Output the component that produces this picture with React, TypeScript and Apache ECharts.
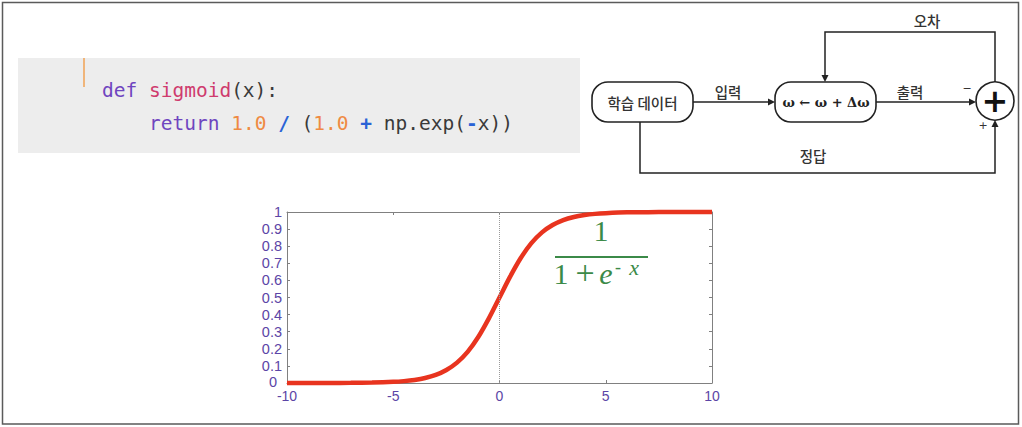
import React, { useEffect, useRef } from "react";
import * as echarts from "echarts";

// Sampled points of the logistic curve
const xValues = [-10, -9, -8, -7, -6, -5, -4.5, -4, -3.5, -3, -2.5, -2, -1.5, -1, -0.5, 0, 0.5, 1, 1.5, 2, 2.5, 3, 3.5, 4, 4.5, 5, 6, 7, 8, 9, 10];
const sigmoidValues = [0.0, 0.0001, 0.0003, 0.0009, 0.0025, 0.0067, 0.011, 0.018, 0.029, 0.047, 0.076, 0.119, 0.182, 0.269, 0.378, 0.5, 0.622, 0.731, 0.818, 0.881, 0.924, 0.953, 0.971, 0.982, 0.989, 0.993, 0.998, 0.999, 1.0, 1.0, 1.0];

// Code snippet shown above the plot
const codeLine1 = "{k|def }{f|sigmoid}{p|(x):}";
const codeLine2 = "{k|return }{n|1.0 }{o|/ }{p|(}{n|1.0 }{o|+ }{p|np.exp(}{o|-}{p|x))}";

// Flow diagram labels
const diagramLabels = {
  data: "학습 데이터",
  update: "ω ← ω + Δω",
  input: "입력",
  output: "출력",
  error: "오차",
  answer: "정답",
};

const AXIS_PURPLE = "#5c45a6";
const FRAME = "#808080";
const GREEN = "#3b8a48";
const INK = "#222";
const KR = "'Noto Sans CJK KR', sans-serif";
const MONO = "'DejaVu Sans Mono', monospace";
const SANS = "'Liberation Sans', Arial, sans-serif";

function arrowHead(x: number, y: number, dir: "right" | "down" | "up") {
  const l = 7, w = 3.5;
  let pts: number[][];
  if (dir === "right") pts = [[x, y], [x - l, y - w], [x - l, y + w]];
  else if (dir === "down") pts = [[x, y], [x - w, y - l], [x + w, y - l]];
  else pts = [[x, y], [x - w, y + l], [x + w, y + l]];
  return { type: "polygon", shape: { points: pts }, style: { fill: INK }, z: 6 };
}

function frameAxis(position: string, kind: "x" | "y", labelled: boolean) {
  const base: any = {
    type: "value",
    position,
    axisLine: { show: true, onZero: false, lineStyle: { color: FRAME, width: 1 } },
    axisTick: { show: true, inside: true, length: 3, lineStyle: { color: FRAME } },
    splitLine: { show: false },
    axisLabel: { show: false },
  };
  if (labelled && kind === "x") {
    base.axisLabel = { color: AXIS_PURPLE, fontSize: 14, lineHeight: 12, margin: 7, fontFamily: SANS };
  }
  if (labelled && kind === "y") {
    // the "0" label sits a little further left so it clears "-10" below it
    base.axisLabel = {
      color: AXIS_PURPLE,
      fontSize: 14.5,
      lineHeight: 12,
      margin: 5,
      fontFamily: SANS,
      formatter: (v: number) => (v === 0 ? "{z|0}" : String(v)),
      rich: { z: { color: AXIS_PURPLE, fontSize: 14.5, fontFamily: SANS, padding: [0, 5, 3, 0] } },
    };
  }
  if (kind === "x") Object.assign(base, { min: -10, max: 10, interval: 5 });
  else Object.assign(base, { min: 0, max: 1, interval: 0.1 });
  return base;
}

export default function App() {
  const ref = useRef<HTMLDivElement>(null);

  useEffect(() => {
    if (!ref.current) return;
    const chart = echarts.init(ref.current, undefined, { renderer: "svg" });
    const data = xValues.map((x, i) => [x, sigmoidValues[i]]);

    const fs = 19.5;
    const codeRich = {
      k: { fill: "#6f45bf", fontFamily: MONO, fontSize: fs },
      f: { fill: "#cf3b6e", fontFamily: MONO, fontSize: fs },
      p: { fill: "#3a3a3a", fontFamily: MONO, fontSize: fs },
      n: { fill: "#ef8a42", fontFamily: MONO, fontSize: fs },
      o: { fill: "#2a63d6", fontFamily: MONO, fontSize: fs, fontWeight: "bold" },
    };

    const line = { stroke: INK, lineWidth: 1.5, fill: "none" };
    const serif = "'Liberation Serif', serif";

    chart.setOption({
      animation: false,
      backgroundColor: "#fff",
      grid: { left: 287, right: 310, top: 212, bottom: 44, containLabel: false },
      xAxis: [frameAxis("bottom", "x", true), frameAxis("top", "x", false)],
      yAxis: [frameAxis("left", "y", true), frameAxis("right", "y", false)],
      series: [
        {
          type: "line",
          xAxisIndex: 0,
          yAxisIndex: 0,
          data,
          smooth: 0.3,
          showSymbol: false,
          clip: false,
          lineStyle: { color: "#e8341f", width: 4.5 },
          markLine: {
            silent: true,
            symbol: "none",
            label: { show: false },
            lineStyle: { color: "#9a9a9a", type: "dotted", width: 1 },
            data: [{ xAxis: 0 }],
          },
          z: 3,
        },
      ],
      graphic: [
        // outer frame
        { type: "rect", shape: { x: 2.5, y: 2.5, width: 1016, height: 421.5 }, style: { fill: "none", stroke: "#5a5a5a", lineWidth: 1.5 }, z: 10 },

        // code block
        { type: "rect", shape: { x: 18, y: 58, width: 562, height: 95 }, style: { fill: "#ededed" }, z: 1 },
        { type: "rect", shape: { x: 83, y: 58, width: 2, height: 29 }, style: { fill: "#f0b57a" }, z: 2 },
        { type: "text", x: 102, y: 90, style: { text: codeLine1, font: `${fs}px ${MONO}`, rich: codeRich, verticalAlign: "middle", align: "left" }, z: 2 },
        { type: "text", x: 149, y: 123, style: { text: codeLine2, font: `${fs}px ${MONO}`, rich: codeRich, verticalAlign: "middle", align: "left" }, z: 2 },

        // formula 1 / (1 + e^-x)
        { type: "text", x: 601, y: 245, style: { text: "1", font: `30px ${serif}`, fill: GREEN, align: "center", verticalAlign: "bottom" }, z: 5 },
        { type: "line", shape: { x1: 555, y1: 257, x2: 648, y2: 257 }, style: { stroke: GREEN, lineWidth: 2 }, z: 5 },
        { type: "text", x: 561, y: 288, style: { text: "1", font: `30px ${serif}`, fill: GREEN, align: "center", verticalAlign: "bottom" }, z: 5 },
        { type: "text", x: 585, y: 289, style: { text: "+", font: `34px ${serif}`, fill: GREEN, align: "center", verticalAlign: "bottom" }, z: 5 },
        { type: "text", x: 606, y: 288, style: { text: "e", font: `italic 30px ${serif}`, fill: GREEN, align: "center", verticalAlign: "bottom" }, z: 5 },
        { type: "text", x: 618, y: 276, style: { text: "-", font: `18px ${serif}`, fill: GREEN, align: "center", verticalAlign: "bottom" }, z: 5 },
        { type: "text", x: 634, y: 278, style: { text: "x", font: `italic 22px ${serif}`, fill: GREEN, align: "center", verticalAlign: "bottom" }, z: 5 },

        // flow diagram
        { type: "rect", shape: { x: 592, y: 82, width: 101, height: 40, r: 16 }, style: { fill: "#fff", stroke: INK, lineWidth: 1.6 }, z: 5 },
        { type: "text", x: 642.5, y: 102, style: { text: diagramLabels.data, font: `500 14.5px ${KR}`, fill: "#333", align: "center", verticalAlign: "middle" }, z: 6 },
        { type: "rect", shape: { x: 775, y: 82, width: 101, height: 40, r: 16 }, style: { fill: "#fff", stroke: INK, lineWidth: 1.6 }, z: 5 },
        { type: "text", x: 826, y: 102, style: { text: diagramLabels.update, font: "bold 13px 'DejaVu Serif', serif", fill: INK, align: "center", verticalAlign: "middle" }, z: 6 },
        { type: "circle", shape: { cx: 995, cy: 101, r: 19 }, style: { fill: "#fff", stroke: INK, lineWidth: 1.6 }, z: 5 },
        { type: "text", x: 995, y: 101, style: { text: "+", font: "bold 32px 'DejaVu Sans', sans-serif", fill: "#111", align: "center", verticalAlign: "middle" }, z: 6 },

        { type: "line", shape: { x1: 693, y1: 102, x2: 770, y2: 102 }, style: line, z: 5 },
        arrowHead(775, 102, "right"),
        { type: "line", shape: { x1: 876, y1: 102, x2: 971, y2: 102 }, style: line, z: 5 },
        arrowHead(976, 102, "right"),
        { type: "polyline", shape: { points: [[995, 82], [995, 32], [825, 32], [825, 76]] }, style: line, z: 5 },
        arrowHead(825, 82, "down"),
        { type: "polyline", shape: { points: [[640, 122], [640, 173], [995, 173], [995, 126]] }, style: line, z: 5 },
        arrowHead(995, 120, "up"),

        { type: "text", x: 728, y: 91, style: { text: diagramLabels.input, font: `500 14.5px ${KR}`, fill: "#333", align: "center", verticalAlign: "middle" }, z: 6 },
        { type: "text", x: 910, y: 91, style: { text: diagramLabels.output, font: `500 14.5px ${KR}`, fill: "#333", align: "center", verticalAlign: "middle" }, z: 6 },
        { type: "text", x: 927, y: 20, style: { text: diagramLabels.error, font: `500 14.5px ${KR}`, fill: "#333", align: "center", verticalAlign: "middle" }, z: 6 },
        { type: "text", x: 813, y: 155, style: { text: diagramLabels.answer, font: `500 14.5px ${KR}`, fill: "#333", align: "center", verticalAlign: "middle" }, z: 6 },
        { type: "text", x: 967, y: 88, style: { text: "−", font: "11px 'DejaVu Sans', sans-serif", fill: "#333", align: "center", verticalAlign: "middle" }, z: 6 },
        { type: "text", x: 983, y: 125, style: { text: "+", font: "11px 'DejaVu Sans', sans-serif", fill: "#333", align: "center", verticalAlign: "middle" }, z: 6 },
      ],
    });

    return () => chart.dispose();
  }, []);

  return (
    <div
      ref={ref}
      style={{ position: "absolute", left: 0, top: 0, width: 1022, height: 427, background: "#fff" }}
    />
  );
}
